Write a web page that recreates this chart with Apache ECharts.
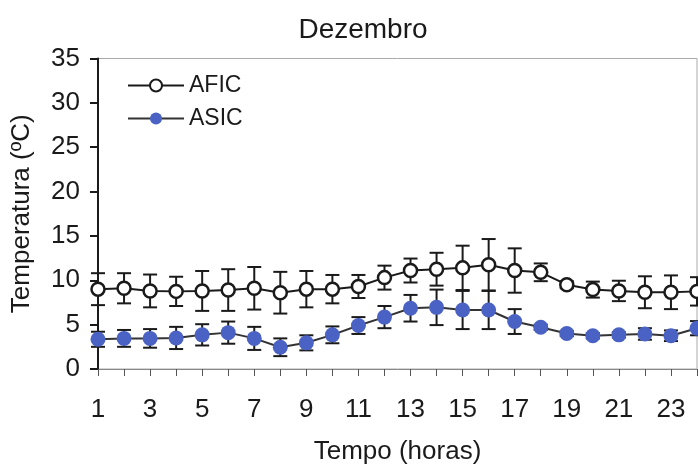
<!DOCTYPE html>
<html>
<head>
<meta charset="utf-8">
<script src="https://cdn.jsdelivr.net/npm/echarts@6/dist/echarts.min.js"></script>
<style>
  html, body { margin: 0; padding: 0; background: #fff; }
  #chart { width: 698px; height: 464px; }
</style>
</head>
<body>
<div id="chart"></div>
<script>
// Hourly temperature in December, mean ± standard deviation
const hours = [1,2,3,4,5,6,7,8,9,10,11,12,13,14,15,16,17,18,19,20,21,22,23,24];
const aficMean = [9.0,9.1,8.8,8.75,8.8,8.9,9.1,8.6,9.0,9.0,9.3,10.3,11.1,11.25,11.4,11.75,11.1,10.9,9.5,8.95,8.8,8.65,8.65,8.75];
const aficSd   = [1.8,1.7,1.85,1.65,2.25,2.35,2.4,2.35,2.05,1.6,1.3,1.35,1.35,1.85,2.5,2.9,2.5,1.0,0.4,0.9,1.15,1.8,1.9,1.6];
const asicMean = [3.35,3.45,3.45,3.5,3.85,4.1,3.45,2.45,2.95,3.85,4.9,5.85,6.85,6.95,6.65,6.65,5.35,4.7,4.0,3.75,3.85,3.95,3.75,4.6];
const asicSd   = [0.85,0.95,1.05,1.25,1.2,1.25,1.3,1.0,0.85,0.95,0.95,1.25,1.5,2.0,2.15,2.15,1.4,0.3,0.3,0.3,0.3,0.65,0.6,0.8];
const yTicks = [0,5,10,15,20,25,30,35];

const FONT = 'Liberation Sans, Arial, sans-serif';
const BLUE = '#4a62c4';
const INK = '#1a1a1a';

function pairs(x, y) { return x.map((h, i) => [h, y[i]]); }
function errRows(x, m, s) { return x.map((h, i) => [h, m[i] - s[i], m[i] + s[i]]); }

function errorBars(params, api) {
  const x = api.value(0);
  const lo = api.coord([x, api.value(1)]);
  const hi = api.coord([x, api.value(2)]);
  const half = 7;
  const style = { stroke: INK, lineWidth: 2 };
  return {
    type: 'group',
    children: [
      { type: 'line', shape: { x1: lo[0], y1: lo[1], x2: hi[0], y2: hi[1] }, style },
      { type: 'line', shape: { x1: hi[0] - half, y1: hi[1], x2: hi[0] + half, y2: hi[1] }, style },
      { type: 'line', shape: { x1: lo[0] - half, y1: lo[1], x2: lo[0] + half, y2: lo[1] }, style }
    ]
  };
}

const chart = echarts.init(document.getElementById('chart'), null, { renderer: 'canvas' });
chart.setOption({
  animation: false,
  backgroundColor: '#fff',
  textStyle: { fontFamily: FONT },
  title: {
    text: 'Dezembro',
    left: 358,
    textAlign: 'center',
    top: 11,
    textStyle: { fontFamily: FONT, fontSize: 28, fontWeight: 'normal', color: INK }
  },
  legend: {
    data: ['AFIC', 'ASIC'],
    orient: 'vertical',
    left: 127,
    top: 74,
    padding: 0,
    itemWidth: 56,
    itemHeight: 15,
    itemGap: 10,
    textStyle: { fontFamily: FONT, fontSize: 23, color: INK }
  },
  grid: {
    left: 98, right: 1, top: 58.5, bottom: 95,
    containLabel: false,
    outerBoundsMode: 'none',
    show: true, borderColor: '#aaa', borderWidth: 1
  },
  xAxis: {
    type: 'value',
    min: 1, max: 24, interval: 1,
    name: 'Tempo (horas)',
    nameLocation: 'middle',
    nameGap: 70,
    nameTextStyle: { fontFamily: FONT, fontSize: 26, color: INK },
    axisLine: { lineStyle: { color: '#888', width: 1 } },
    axisTick: { length: 7, lineStyle: { color: '#555', width: 1 } },
    axisLabel: {
      margin: 28,
      fontFamily: FONT, fontSize: 26, color: INK,
      formatter: v => (v % 2 === 1 ? String(v) : '')
    },
    splitLine: { show: false }
  },
  yAxis: {
    type: 'value',
    min: yTicks[0], max: yTicks[yTicks.length - 1], interval: 5,
    name: 'Temperatura (ºC)',
    nameLocation: 'middle',
    nameGap: 63,
    nameTextStyle: { fontFamily: FONT, fontSize: 26, color: INK },
    axisLine: { show: true, lineStyle: { color: INK, width: 2 } },
    axisTick: { show: true, length: 8, lineStyle: { color: INK, width: 2 } },
    axisLabel: { margin: 18, fontFamily: FONT, fontSize: 26, color: INK },
    splitLine: { show: false }
  },
  series: [
    {
      name: 'AFIC err', type: 'custom', z: 1,
      renderItem: errorBars,
      encode: { x: 0, y: [1, 2] },
      data: errRows(hours, aficMean, aficSd)
    },
    {
      name: 'ASIC err', type: 'custom', z: 1,
      renderItem: errorBars,
      encode: { x: 0, y: [1, 2] },
      data: errRows(hours, asicMean, asicSd)
    },
    {
      name: 'ASIC', type: 'line', z: 3,
      data: pairs(hours, asicMean),
      symbol: 'circle', symbolSize: 15, showAllSymbol: true,
      lineStyle: { color: '#333', width: 2 },
      itemStyle: { color: BLUE, borderColor: BLUE, borderWidth: 0 }
    },
    {
      name: 'AFIC', type: 'line', z: 4,
      data: pairs(hours, aficMean),
      symbol: 'circle', symbolSize: 13, showAllSymbol: true,
      lineStyle: { color: INK, width: 2 },
      itemStyle: { color: '#fff', borderColor: INK, borderWidth: 2.5 }
    }
  ]
});
</script>
</body>
</html>
